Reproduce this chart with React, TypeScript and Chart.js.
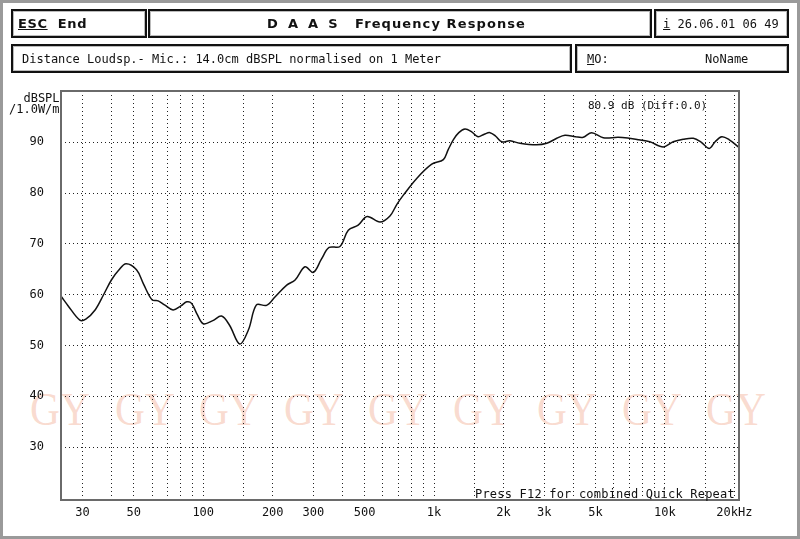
import React, { useEffect, useRef } from "react";
import { Chart, registerables } from "chart.js";

Chart.register(...registerables);

// ---- data ----
const frequencies: number[] = [
  24.3, 26, 29.2, 31, 34, 37, 40, 43, 46.3, 51.4, 55, 60, 63.8, 68, 74, 80, 84.8, 89, 94, 100,
  110, 120, 130, 144, 157, 170, 188, 205, 230, 250, 276, 300, 325, 351, 391, 425, 469, 513, 583,
  644, 690, 736, 841, 977, 1097, 1150, 1211, 1280, 1361, 1450, 1550, 1650, 1747, 1850, 1963, 2133,
  2355, 2780, 3077, 3400, 3690, 4100, 4430, 4815, 5407, 6284, 7000, 7700, 8600, 9840, 10870,
  12000, 13280, 14300, 15570, 16500, 17630, 19000, 20800,
];
const splValues: number[] = [
  59.6, 57.8, 55.0, 55.2, 57.0, 60.0, 62.9, 64.8, 66.1, 64.9, 62.2, 59.0, 58.8, 58.0, 57.0, 57.8,
  58.6, 58.3, 56.2, 54.3, 54.9, 55.8, 54.0, 50.3, 53.1, 58.0, 57.9, 59.6, 61.9, 62.9, 65.5, 64.4,
  67.0, 69.3, 69.5, 72.7, 73.7, 75.4, 74.3, 75.5, 77.8, 79.6, 82.9, 85.7, 86.6, 88.5, 90.5, 91.9,
  92.6, 92.1, 91.1, 91.6, 91.9, 91.2, 90.1, 90.3, 89.8, 89.5, 89.8, 90.8, 91.4, 91.1, 91.0, 91.9,
  90.9, 91.0, 90.8, 90.5, 90.1, 89.1, 90.1, 90.6, 90.8, 90.1, 88.8, 90.1, 91.1, 90.5, 89.1,
];
const xGridFreqs: number[] = [
  30, 40, 50, 60, 70, 80, 90, 100, 150, 200, 300, 400, 500, 600, 700, 800, 900, 1000, 1500, 2000,
  3000, 4000, 5000, 6000, 7000, 8000, 9000, 10000, 15000, 20000,
];
const xTickLabels: Record<number, string> = {
  30: "30", 50: "50", 100: "100", 200: "200", 300: "300", 500: "500", 1000: "1k", 2000: "2k",
  3000: "3k", 5000: "5k", 10000: "10k", 20000: "20kHz",
};
const yTicks: number[] = [30, 40, 50, 60, 70, 80, 90];
const xMin = 24.2;
const xMax = 20940;
const yMin = 19.6;
const yMax = 100.1;

const MONO = '"DejaVu Sans Mono", "Liberation Mono", monospace';
const SANS = '"DejaVu Sans", Verdana, sans-serif';

const framePlugin = {
  id: "frame",
  afterDraw(chart: any) {
    const { ctx, chartArea } = chart;
    ctx.save();
    ctx.strokeStyle = "#6a6a6a";
    ctx.lineWidth = 2;
    ctx.strokeRect(chartArea.left, chartArea.top, chartArea.right - chartArea.left, chartArea.bottom - chartArea.top);
    ctx.restore();
  },
};

function Box(props: { left: number; top: number; width: number; height: number; children?: any; style?: any }) {
  return (
    <div
      style={{
        position: "absolute",
        left: props.left,
        top: props.top,
        width: props.width,
        height: props.height,
        boxSizing: "border-box",
        border: "2px solid #111",
        boxShadow: "inset 0 0 0 1px #bbb",
        display: "flex",
        alignItems: "center",
        fontFamily: MONO,
        fontSize: 12,
        color: "#111",
        whiteSpace: "pre",
        ...props.style,
      }}
    >
      {props.children}
    </div>
  );
}

export default function App() {
  const canvasRef = useRef<HTMLCanvasElement | null>(null);

  useEffect(() => {
    if (!canvasRef.current) return;
    const chart = new Chart(canvasRef.current, {
      type: "line",
      data: {
        datasets: [
          {
            data: frequencies.map((f, i) => ({ x: f, y: splValues[i] })),
            borderColor: "#111",
            borderWidth: 1.5,
            pointRadius: 0,
            tension: 0.35,
            fill: false,
          },
        ],
      },
      options: {
        animation: false,
        responsive: false,
        devicePixelRatio: 1,
        parsing: false as any,
        layout: { padding: { left: 0, top: 91, right: 61, bottom: 0 } },
        plugins: { legend: { display: false }, tooltip: { enabled: false } },
        scales: {
          x: {
            type: "logarithmic",
            min: xMin,
            max: xMax,
            afterBuildTicks: (scale: any) => {
              scale.ticks = xGridFreqs.map((v) => ({ value: v }));
            },
            afterFit: (scale: any) => {
              scale.height = 39;
            },
            grid: { color: "#222", lineWidth: 1, drawTicks: false },
            border: { display: false, dash: [1, 3] },
            ticks: {
              autoSkip: false,
              maxRotation: 0,
              padding: 6,
              color: "#111",
              font: { family: MONO, size: 12 },
              callback: (value: any) => xTickLabels[Number(value)] ?? "",
            },
          },
          y: {
            type: "linear",
            min: yMin,
            max: yMax,
            afterBuildTicks: (scale: any) => {
              scale.ticks = yTicks.map((v) => ({ value: v }));
            },
            afterFit: (scale: any) => {
              scale.width = 61;
            },
            grid: { color: "#222", lineWidth: 1, drawTicks: false },
            border: { display: false, dash: [1, 3] },
            ticks: {
              padding: 17,
              color: "#111",
              font: { family: MONO, size: 12 },
              callback: (value: any) => String(value),
            },
          },
        },
      },
      plugins: [framePlugin],
    } as any);
    return () => chart.destroy();
  }, []);

  const watermark = ["GY", "GY", "GY", "GY", "GY", "GY", "GY", "GY", "GY"];

  return (
    <div style={{ position: "absolute", left: 0, top: 0, width: 800, height: 539, background: "#fff", overflow: "hidden" }}>
      {/* watermark */}
      <div style={{ position: "absolute", left: 30, top: 386, display: "flex", fontFamily: '"Liberation Serif", "DejaVu Serif", serif', fontSize: 46, color: "rgba(240,160,130,0.38)", lineHeight: "48px" }}>
        {watermark.map((w, i) => (
          <span key={i} style={{ width: 84.5, display: "inline-block", transform: "scaleX(0.9)", transformOrigin: "left" }}>{w}</span>
        ))}
      </div>

      <canvas ref={canvasRef} width={800} height={539} style={{ position: "absolute", left: 0, top: 0, width: 800, height: 539 }} />

      {/* header */}
      <Box left={11} top={9} width={136} height={29} style={{ fontFamily: SANS, fontWeight: "bold", fontSize: 13, letterSpacing: 0.6, paddingLeft: 5 }}>
        <span style={{ textDecoration: "underline" }}>ESC</span>{"  End"}
      </Box>
      <Box left={148} top={9} width={504} height={29} style={{ fontFamily: SANS, fontWeight: "bold", fontSize: 13 }}>
        <span style={{ position: "absolute", left: 117, letterSpacing: 2.8 }}>D A A S</span>
        <span style={{ position: "absolute", left: 205, letterSpacing: 1.1 }}>Frequency Response</span>
      </Box>
      <Box left={654} top={9} width={135} height={29} style={{ paddingLeft: 7 }}>
        <span style={{ textDecoration: "underline" }}>i</span> 26.06.01 06 49
      </Box>
      <Box left={11} top={44} width={561} height={29} style={{ paddingLeft: 9 }}>
        Distance Loudsp.- Mic.: 14.0cm dBSPL normalised on 1 Meter
      </Box>
      <Box left={575} top={44} width={214} height={29} style={{ paddingLeft: 10 }}>
        <span style={{ textDecoration: "underline" }}>M</span>O:
        <span style={{ position: "absolute", left: 128 }}>NoName</span>
      </Box>

      {/* axis title */}
      <div style={{ position: "absolute", left: 9, top: 93, fontFamily: MONO, fontSize: 12, lineHeight: "11px", color: "#111", whiteSpace: "pre" }}>
        {"  dBSPL\n/1.0W/m"}
      </div>

      {/* in-plot annotations */}
      <div style={{ position: "absolute", left: 588, top: 99, fontFamily: MONO, fontSize: 11, color: "#111", whiteSpace: "pre" }}>
        80.9 dB (Diff:0.0)
      </div>
      <div style={{ position: "absolute", left: 475, top: 487, fontFamily: MONO, fontSize: 12, color: "#111", whiteSpace: "pre", letterSpacing: 0.2 }}>
        Press F12 for combined Quick Repeat
      </div>

      {/* outer frame */}
      <div style={{ position: "absolute", left: 0, top: 0, width: 800, height: 539, boxSizing: "border-box", border: "3px solid #9a9a9a", pointerEvents: "none" }} />
    </div>
  );
}
